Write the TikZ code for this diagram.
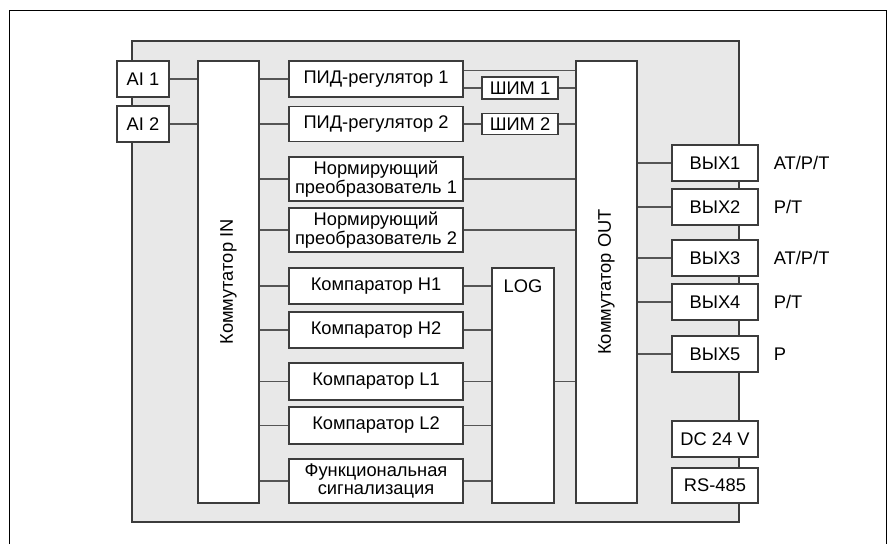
\documentclass[tikz,border=0pt]{standalone}
\usepackage{fontspec}
\setmainfont{Liberation Sans}
\usetikzlibrary{calc}
\definecolor{panelgray}{RGB}{232,232,232}
\definecolor{edgegray}{RGB}{60,60,60}
\definecolor{wiregray}{RGB}{85,85,85}

\begin{document}
\begin{tikzpicture}[x=1pt,y=-1pt,
    blok/.style={draw=edgegray,fill=white,line width=1.3pt,inner sep=0pt,align=center,font=\fontsize{18.3}{18.5}\selectfont},
    wire/.style={draw=wiregray,line width=1.3pt},
    tag/.style={inner sep=0pt,font=\fontsize{18.3}{18.5}\selectfont}]
    \useasboundingbox (0,0) rectangle (892,544);
    \draw[line width=1pt] (9,544) -- (9,10) -- (886,10) -- (886,544);
    \filldraw[fill=panelgray,draw=edgegray,line width=1.3pt] (132,41) rectangle (739,522);
    \node[blok,minimum width=52,minimum height=36] (ai1) at (143,79) {AI 1};
    \node[blok,minimum width=52,minimum height=36] (ai2) at (143,124) {AI 2};
    \node[blok,minimum width=61,minimum height=442] (kin) at (228.5,282) {};
    \node[tag,rotate=90] (kinname) at (kin.center) {Коммутатор IN};
    \node[blok,minimum width=174,minimum height=36] (pid1) at (376,79) {ПИД-регулятор 1};
    \node[blok,minimum width=174,minimum height=35] (pid2) at (376,124) {ПИД-регулятор 2};
    \node[blok,minimum width=174,minimum height=44] (norm1) at (376,179) {Нормирующий\\преобразователь 1};
    \node[blok,minimum width=174,minimum height=44] (norm2) at (376,230) {Нормирующий\\преобразователь 2};
    \node[blok,minimum width=174,minimum height=36] (kh1) at (376,286) {Компаратор H1};
    \node[blok,minimum width=174,minimum height=36] (kh2) at (376,330) {Компаратор H2};
    \node[blok,minimum width=174,minimum height=37] (kl1) at (376,381.5) {Компаратор L1};
    \node[blok,minimum width=174,minimum height=37] (kl2) at (376,425.5) {Компаратор L2};
    \node[blok,minimum width=174,minimum height=44] (funk) at (376,481) {Функциональная\\сигнализация};
    \node[blok,minimum width=76,minimum height=22] (shim1) at (520,88) {ШИМ 1};
    \node[blok,minimum width=76,minimum height=21] (shim2) at (520,124) {ШИМ 2};
    \node[blok,minimum width=62,minimum height=235] (log) at (523,385.5) {};
    \node[tag] (logname) at (log.center |- kh1.center) {LOG};
    \node[blok,minimum width=61,minimum height=442] (kout) at (606.5,282) {};
    \node[tag,rotate=90] (koutname) at (kout.center) {Коммутатор OUT};
    \foreach \n/\y in {1/163,2/207,3/258,4/302,5/354}
        \node[blok,minimum width=86,minimum height=36] (vyx\n) at (715,\y) {ВЫХ\n};
    \node[blok,minimum width=86,minimum height=36] (dc) at (715,439) {DC 24 V};
    \node[blok,minimum width=86,minimum height=35] (rs) at (715,485.5) {RS-485};
    \node[tag,anchor=west] (mode1) at ([xshift=15pt]vyx1.east) {AT/P/T};
    \node[tag,anchor=west] (mode2) at ([xshift=15pt]vyx2.east) {P/T};
    \node[tag,anchor=west] (mode3) at ([xshift=15pt]vyx3.east) {AT/P/T};
    \node[tag,anchor=west] (mode4) at ([xshift=15pt]vyx4.east) {P/T};
    \node[tag,anchor=west] (mode5) at ([xshift=15pt]vyx5.east) {P};
    \draw[wire] (ai1.east) -- (ai1.east -| kin.west);
    \draw[wire] (ai2.east) -- (ai2.east -| kin.west);
    \foreach \b in {pid1,pid2,norm1,norm2,kh1,kh2,kl1,kl2,funk}
        \draw[wire] (\b.west -| kin.east) -- (\b.west);
    \coordinate (pidtap) at ([yshift=-10pt]pid1.north east);
    \draw[wire] (pidtap) -- (pidtap -| kout.west);
    \draw[wire] (shim1.west -| pid1.east) -- (shim1.west);
    \draw[wire] (shim1.east) -- (shim1.east -| kout.west);
    \draw[wire] (pid2.east) -- (shim2.west);
    \draw[wire] (shim2.east) -- (shim2.east -| kout.west);
    \draw[wire] (norm1.east) -- (norm1.east -| kout.west);
    \draw[wire] (norm2.east) -- (norm2.east -| kout.west);
    \foreach \b in {kh1,kh2,kl1,kl2,funk}
        \draw[wire] (\b.east) -- (\b.east -| log.west);
    \draw[wire] (kl1.east -| log.east) -- (kl1.east -| kout.west);
    \foreach \n in {1,...,5}
        \draw[wire] (vyx\n.west -| kout.east) -- (vyx\n.west);
\end{tikzpicture}
\end{document}
